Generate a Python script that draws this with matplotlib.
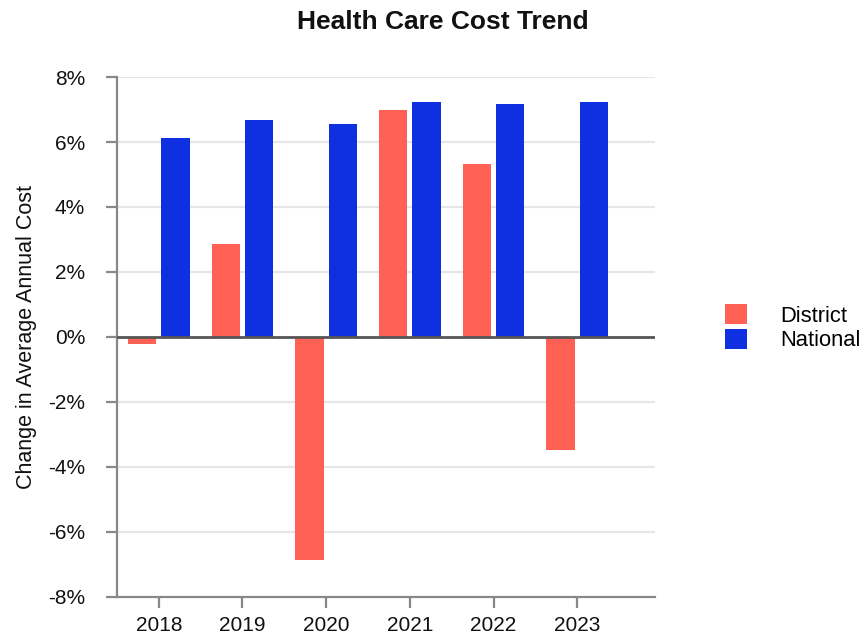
import numpy as np
import matplotlib
matplotlib.use("Agg")
import matplotlib.pyplot as plt
from matplotlib.patches import Patch

plt.rcParams['font.family'] = ['Liberation Sans', 'DejaVu Sans']
plt.rcParams['axes.unicode_minus'] = False

# data
years = ['2018', '2019', '2020', '2021', '2022', '2023']
district = [-0.22, 2.85, -6.87, 6.97, 5.31, -3.48]
national = [6.11, 6.67, 6.54, 7.22, 7.16, 7.22]
y_ticks = [-8, -6, -4, -2, 0, 2, 4, 6, 8]

c_district = '#FF6155'
c_national = '#0F30E0'
axis_grey = '#888888'

fig = plt.figure(figsize=(8.64, 6.38), dpi=100)
ax = fig.add_axes([0.1354, 0.0643, 0.6227, 0.815])

x = np.arange(len(years))
w = 0.34
ax.bar(x - 0.2, district, w, color=c_district, zorder=3)
ax.bar(x + 0.2, national, w, color=c_national, zorder=3)

ax.set_xlim(-0.5, 5.93)
ax.set_ylim(-8, 8)
ax.set_yticks(y_ticks)
ax.set_yticklabels([f'{v}%' for v in y_ticks], fontsize=15)
ax.set_xticks(x)
ax.set_xticklabels(years, fontsize=15)

# gridlines and zero line
for v in y_ticks:
    if v not in (-8, 0):
        ax.axhline(v, color='#e6e6e6', lw=1.6, zorder=1)
ax.axhline(0, color='#555555', lw=2, zorder=4)

for s in ['top', 'right']:
    ax.spines[s].set_visible(False)
for s in ['left', 'bottom']:
    ax.spines[s].set_color(axis_grey)
    ax.spines[s].set_linewidth(1.6)
ax.tick_params(axis='both', colors=axis_grey, length=8, width=1.6, labelcolor='#111111')
ax.tick_params(axis='x', pad=6)
ax.tick_params(axis='y', pad=15)

ax.set_ylabel('Change in Average Annual Cost', fontsize=15.5, color='#111111')
ax.yaxis.set_label_coords(-0.148, 0.5)
fig.text(0.512, 0.965, 'Health Care Cost Trend', ha='center', va='center',
         fontsize=19, fontweight='bold', color='#111111')

handles = [Patch(facecolor=c_district, label='District'),
           Patch(facecolor=c_national, label='National')]
fig.legend(handles=handles, loc='center left', bbox_to_anchor=(0.839, 0.486),
           frameon=False, fontsize=15.8, handlelength=1.0, handleheight=1.0,
           handletextpad=1.5, labelspacing=0.1, borderpad=0, borderaxespad=0)

fig.savefig('out.png', dpi=100)
